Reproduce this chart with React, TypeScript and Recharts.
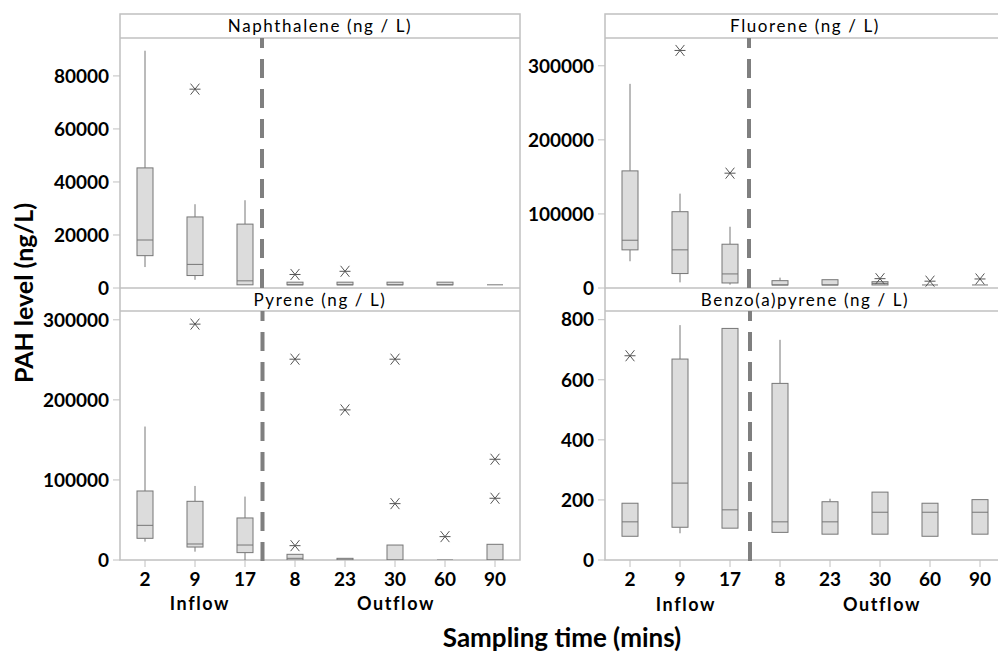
import {
  ComposedChart,
  Bar,
  Scatter,
  XAxis,
  YAxis,
  ReferenceLine,
} from "recharts";

const times = ["2", "9", "17", "8", "23", "30", "60", "90"];

// Naphthalene (ng / L)
const naphLow = [7900, 3100, 1200, 1200, 1200, 1200, 1200, 1200];
const naphQ1 = [12200, 4700, 1200, 1200, 1200, 1200, 1200, 1200];
const naphMed = [18100, 8900, 2700, 1200, 1200, 1200, 1200, 1200];
const naphQ3 = [45300, 26800, 24100, 2200, 2200, 2200, 2200, 1200];
const naphHigh = [89500, 31600, 33100, 2200, 2200, 2200, 2200, 1200];
const naphOut: [string, number][] = [["9", 75000], ["8", 5100], ["23", 6300]];

// Fluorene (ng / L)
const fluoLow = [36100, 7600, 4500, 4100, 4100, 4100, 4100, 4100];
const fluoQ1 = [51500, 19500, 6800, 4100, 4100, 4100, 4100, 4100];
const fluoMed = [64500, 51500, 19000, 4100, 4100, 6200, 4100, 4100];
const fluoQ3 = [158100, 103000, 59100, 9900, 11200, 8500, 4100, 4100];
const fluoHigh = [275600, 127400, 82700, 14000, 11200, 8500, 4100, 4100];
const fluoOut: [string, number][] = [
  ["9", 320700],
  ["17", 155000],
  ["30", 12600],
  ["60", 9200],
  ["90", 12200],
];

// Pyrene (ng / L)
const pyrLow = [22900, 10400, 0, 0, 0, 0, 0, 0];
const pyrQ1 = [27100, 16200, 9200, 0, 0, 0, 0, 0];
const pyrMed = [43300, 20000, 18700, 2100, 0, 0, 0, 0];
const pyrQ3 = [86200, 73300, 52500, 7100, 2100, 18700, 0, 19600];
const pyrHigh = [166700, 92500, 79200, 7100, 2100, 18700, 0, 19600];
const pyrOut: [string, number][] = [
  ["9", 294600],
  ["8", 250800],
  ["8", 17900],
  ["23", 187500],
  ["30", 250800],
  ["30", 70400],
  ["60", 29200],
  ["90", 125800],
  ["90", 77100],
];

// Benzo(a)pyrene (ng / L)
const bapLow = [79, 89, 106, 92, 86, 86, 79, 86];
const bapQ1 = [79, 109, 106, 92, 86, 86, 79, 86];
const bapMed = [127, 256, 167, 127, 127, 159, 159, 159];
const bapQ3 = [189, 669, 771, 588, 194, 226, 189, 201];
const bapHigh = [189, 782, 771, 733, 204, 226, 189, 201];
const bapOut: [string, number][] = [["2", 680]];

const FRAME = "#c0c0c0";
const BOX_LINE = "#767676";
const BOX_FILL = "#dcdcdc";
const FONT = "Lato, 'Open Sans', sans-serif";
const PAD = 12;

interface BoxRow {
  i: number;
  lo: number;
  q1: number;
  med: number;
  q3: number;
  hi: number;
}

interface OutPoint {
  i: number;
  v: number;
}

function buildRows(lo: number[], q1: number[], med: number[], q3: number[], hi: number[]): BoxRow[] {
  return times.map((_, i) => ({ i, lo: lo[i], q1: q1[i], med: med[i], q3: q3[i], hi: hi[i] }));
}

function buildOut(list: [string, number][]): OutPoint[] {
  return list.map(([t, v]) => ({ i: times.indexOf(t), v }));
}

function BoxShape(props: any) {
  const { x, y, width, height, payload } = props;
  const { lo, q1, med, q3, hi } = payload as BoxRow;
  const top = Math.min(y, y + height);
  const bottom = Math.max(y, y + height);
  const span = hi - lo;
  const py = (v: number) => (span === 0 ? bottom : bottom - ((v - lo) / span) * (bottom - top));
  const cx = x + width / 2;
  return (
    <g stroke={BOX_LINE} strokeWidth={1}>
      {hi > q3 && <line x1={cx} x2={cx} y1={py(hi)} y2={py(q3)} />}
      {lo < q1 && <line x1={cx} x2={cx} y1={py(q1)} y2={py(lo)} />}
      <rect x={x} y={py(q3)} width={width} height={Math.max(py(q1) - py(q3), 0)} fill={BOX_FILL} />
      <line x1={x} x2={x + width} y1={py(med)} y2={py(med)} />
    </g>
  );
}

function Star(props: any) {
  const { cx, cy } = props;
  if (cx == null || cy == null || isNaN(cx) || isNaN(cy)) return <g />;
  const r = 5.5;
  return (
    <g stroke="#555" strokeWidth={1}>
      <line x1={cx - r} y1={cy} x2={cx + r} y2={cy} />
      <line x1={cx - r * 0.8} y1={cy - r} x2={cx + r * 0.8} y2={cy + r} />
      <line x1={cx - r * 0.8} y1={cy + r} x2={cx + r * 0.8} y2={cy - r} />
    </g>
  );
}

const tickStyle = { fill: "#000", fontSize: 19, fontWeight: 700, fontFamily: FONT };

interface PanelProps {
  rows: BoxRow[];
  outliers: OutPoint[];
  yMax: number;
  yTicks: number[];
  left: number;
  top: number;
  plotHeight: number;
  showX: boolean;
  splitAt: number;
}

function Panel({ rows, outliers, yMax, yTicks, left, top, plotHeight, showX, splitAt }: PanelProps) {
  const xHeight = showX ? 36 : 0;
  return (
    <div style={{ position: "absolute", left: left - 120, top: top - PAD }}>
      <ComposedChart
        width={520}
        height={plotHeight + xHeight + 2 * PAD}
        data={rows}
        margin={{ top: PAD, right: 0, bottom: PAD, left: 0 }}
      >
        <XAxis
          type="number"
          dataKey="i"
          domain={[-0.5, 7.5]}
          allowDataOverflow
          ticks={[0, 1, 2, 3, 4, 5, 6, 7]}
          interval={0}
          tickFormatter={(v: number) => times[v]}
          hide={!showX}
          height={xHeight}
          axisLine={false}
          tickSize={7}
          tickMargin={6}
          tickLine={{ stroke: FRAME }}
          tick={tickStyle}
        />
        <YAxis
          type="number"
          domain={[0, yMax]}
          allowDataOverflow
          ticks={yTicks}
          interval={0}
          width={120}
          axisLine={false}
          tickSize={7}
          tickMargin={4}
          tickLine={{ stroke: FRAME }}
          tick={tickStyle}
        />
        <Bar
          dataKey={(r: BoxRow) => [r.lo, r.hi]}
          barSize={16}
          shape={BoxShape}
          isAnimationActive={false}
        />
        <Scatter data={outliers} dataKey="v" shape={Star} isAnimationActive={false} />
        <ReferenceLine
          segment={[
            { x: splitAt, y: yMax },
            { x: splitAt, y: showX ? -yMax * 0.02 : 0 },
          ]}
          stroke="#7f7f7f"
          strokeWidth={4}
          strokeDasharray="19 11"
          strokeDashoffset={9}
          ifOverflow="visible"
        />
      </ComposedChart>
    </div>
  );
}

function Frame({ x0, x1, titles }: { x0: number; x1: number; titles: [string, string] }) {
  const cx = (x0 + x1) / 2;
  const textStyle = { fontFamily: FONT, fontSize: 17, letterSpacing: 1.6, fill: "#000" };
  return (
    <g>
      <rect x={x0} y={14} width={x1 - x0} height={546} fill="none" stroke={FRAME} strokeWidth={1.5} />
      <line x1={x0} x2={x1} y1={38} y2={38} stroke={FRAME} strokeWidth={1.5} />
      <line x1={x0} x2={x1} y1={288} y2={288} stroke={FRAME} strokeWidth={1.5} />
      <line x1={x0} x2={x1} y1={311} y2={311} stroke={FRAME} strokeWidth={1.5} />
      <text x={cx} y={32} textAnchor="middle" style={textStyle}>
        {titles[0]}
      </text>
      <text x={cx} y={306} textAnchor="middle" style={textStyle}>
        {titles[1]}
      </text>
    </g>
  );
}

export default function App() {
  const groupStyle = { fontFamily: FONT, fontSize: 18, fontWeight: 700, letterSpacing: 1.6, fill: "#000" };
  return (
    <div
      style={{
        position: "absolute",
        left: 0,
        top: 0,
        width: 998,
        height: 654,
        overflow: "hidden",
        background: "#fff",
      }}
    >
      <svg width={998} height={654} style={{ position: "absolute", left: 0, top: 0 }}>
        <Frame x0={120} x1={520} titles={["Naphthalene (ng / L)", "Pyrene (ng / L)"]} />
        <Frame x0={605} x1={1005} titles={["Fluorene (ng / L)", "Benzo(a)pyrene (ng / L)"]} />
        <text
          transform="translate(33,293) rotate(-90)"
          textAnchor="middle"
          style={{ fontFamily: FONT, fontSize: 25, fontWeight: 700, fill: "#000" }}
        >
          PAH level (ng/L)
        </text>
        <text
          x={562}
          y={647}
          textAnchor="middle"
          style={{ fontFamily: FONT, fontSize: 26, fontWeight: 700, fill: "#000" }}
        >
          Sampling time (mins)
        </text>
        <text x={200} y={610} textAnchor="middle" style={groupStyle}>Inflow</text>
        <text x={396} y={610} textAnchor="middle" style={groupStyle}>Outflow</text>
        <text x={686} y={611} textAnchor="middle" style={groupStyle}>Inflow</text>
        <text x={882} y={611} textAnchor="middle" style={groupStyle}>Outflow</text>
      </svg>
      <Panel
        rows={buildRows(naphLow, naphQ1, naphMed, naphQ3, naphHigh)}
        outliers={buildOut(naphOut)}
        yMax={94300}
        yTicks={[0, 20000, 40000, 60000, 80000]}
        left={120}
        top={38}
        plotHeight={250}
        showX={false}
        splitAt={2.34}
      />
      <Panel
        rows={buildRows(fluoLow, fluoQ1, fluoMed, fluoQ3, fluoHigh)}
        outliers={buildOut(fluoOut)}
        yMax={337500}
        yTicks={[0, 100000, 200000, 300000]}
        left={605}
        top={38}
        plotHeight={250}
        showX={false}
        splitAt={2.38}
      />
      <Panel
        rows={buildRows(pyrLow, pyrQ1, pyrMed, pyrQ3, pyrHigh)}
        outliers={buildOut(pyrOut)}
        yMax={311000}
        yTicks={[0, 100000, 200000, 300000]}
        left={120}
        top={311}
        plotHeight={249}
        showX={true}
        splitAt={2.35}
      />
      <Panel
        rows={buildRows(bapLow, bapQ1, bapMed, bapQ3, bapHigh)}
        outliers={buildOut(bapOut)}
        yMax={829}
        yTicks={[0, 200, 400, 600, 800]}
        left={605}
        top={311}
        plotHeight={249}
        showX={true}
        splitAt={2.4}
      />
    </div>
  );
}
